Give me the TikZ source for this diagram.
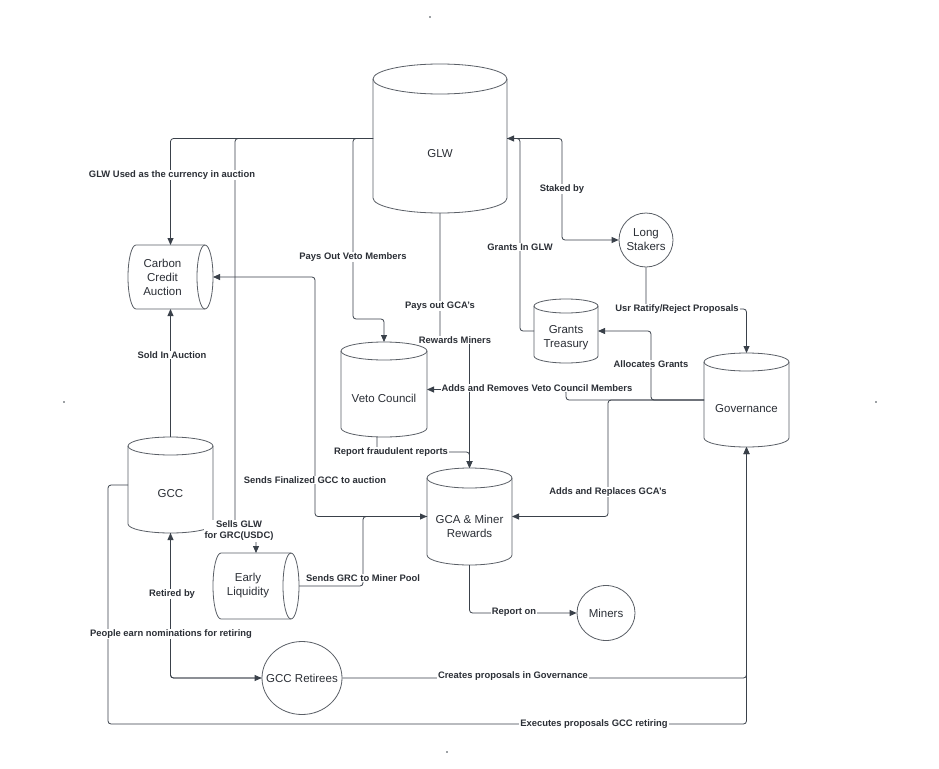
\documentclass[tikz,border=0pt]{standalone}
\usepackage{fontspec}
\setmainfont{Liberation Sans}
\usetikzlibrary{arrows.meta,shapes.geometric,calc}
\definecolor{linec}{HTML}{3A414A}
\definecolor{shapec}{HTML}{5A5F66}
\definecolor{txtc}{HTML}{2B2F36}
\tikzset{
 conn/.style={draw=linec, line width=0.8pt, rounded corners=3pt, -{Triangle[length=7pt,width=6pt]}},
 lbl/.style={fill=white, inner sep=1pt, font=\bfseries\fontsize{9.4}{11}\selectfont, text=txtc, align=center},
 shapeline/.style={draw=shapec, line width=0.8pt},
 boxtxt/.style={font=\fontsize{11.5}{14}\selectfont, text=txtc, align=center},
 anchorbox/.style={inner sep=0pt, outer sep=0pt},
}
\newcommand\VCyl[7]{%
 \node[anchorbox, minimum width=#4pt, minimum height=#5pt] (#1) at (#2,#3) {};
 \draw[shapeline] ([yshift=-#6pt]#1.north) ellipse [x radius=#4pt/2, y radius=#6pt];
 \draw[shapeline] ([yshift=-#6pt]#1.north west) -- ([yshift=#6pt]#1.south west) arc[start angle=180, end angle=360, x radius=#4pt/2, y radius=#6pt] -- ([yshift=-#6pt]#1.north east);
 \node[boxtxt] (#1-t) at ([yshift=-#6pt]#1.center) {#7};
}
\newcommand\HCyl[7]{%
 \node[anchorbox, minimum width=#4pt, minimum height=#5pt] (#1) at (#2,#3) {};
 \draw[shapeline] ([xshift=-#6pt]#1.east) ellipse [x radius=#6pt, y radius=#5pt/2];
 \draw[shapeline] ([xshift=-#6pt]#1.north east) -- ([xshift=#6pt]#1.north west) arc[start angle=90, end angle=270, x radius=#6pt, y radius=#5pt/2] -- ([xshift=-#6pt]#1.south east);
 \node[boxtxt] (#1-t) at ([xshift=-#6pt]#1.center) {#7};
}
\begin{document}
\begin{tikzpicture}[x=1pt,y=-1pt]
\fill[white] (0,0) rectangle (939,768);
\useasboundingbox (0,0) rectangle (939,768);

\VCyl{glw}{440}{138.5}{134}{149}{15}{GLW}
\VCyl{veto}{384}{389.5}{86}{95}{9}{Veto Council}
\VCyl{gt}{566}{331}{64}{64}{7}{Grants\\Treasury}
\VCyl{gov}{746.5}{400}{85}{94}{9}{Governance}
\VCyl{gca}{469.5}{516.5}{85}{97}{10}{GCA \& Miner\\Rewards}
\VCyl{gcc}{170.5}{485}{85}{96}{9}{GCC}
\HCyl{cca}{170.5}{277}{85}{64}{8}{Carbon\\Credit\\Auction}
\HCyl{el}{256}{586}{86}{66}{8}{Early\\Liquidity}

\node[ellipse, shapeline, minimum width=54pt, minimum height=54pt, inner sep=0pt] (ls) at (646,240) {};
\node[boxtxt] (ls-t) at (ls.center) {Long\\Stakers};
\node[ellipse, shapeline, minimum width=58pt, minimum height=55pt, inner sep=0pt] (miners) at (606,613) {};
\node[boxtxt] (miners-t) at (miners.center) {Miners};
\node[ellipse, shapeline, minimum width=80pt, minimum height=73pt, inner sep=0pt] (ret) at (302,678) {};
\node[boxtxt] (ret-t) at (ret.center) {GCC Retirees};

\draw[conn] (glw.west) -| (cca.north);
\draw[conn] (glw.west) -| (235,531) -| (el.north);
\draw[conn] (glw.west) -| (353,319) -| (veto.north);
\draw[conn] (glw.south) |- (469.5,340) -- (gca.north);
\draw[conn] ([xshift=-7pt]veto.south) |- (469.5,452) -- (gca.north);
\draw[conn] (gov.west) -| (566,389.5) -- (veto.east);
\draw[conn] (gov.west) -| (651,331) -- (gt.east);
\draw[conn] (gov.west) -| (608,516.5) -- (gca.east);
\draw[conn] (gt.west) -| (520,138.5) -- (glw.east);
\draw[conn] (glw.east) -| (562,240) -- (ls.west);
\draw[conn] (ls.south) |- (746.5,309) -- (gov.north);
\draw[conn] (gca.west) -| (315,277) -- (cca.east);
\draw[conn] (el.east) -| (363,516.5) -- (gca.west);
\draw[conn] (gcc.north) -- (cca.south);
\draw[conn] (ret.west) -| (gcc.south);
\draw[conn] (gcc.south) |- (ret.west);
\draw[conn] (ret.east) -| (gov.south);
\draw[conn] (gcc.west) -- (108,485) |- (746.5,724) -- (gov.south);
\draw[conn] (gca.south) |- (miners.west);

\node[lbl] (l1) at (172,175) {GLW Used as the currency in auction};
\node[lbl] (l2) at (239,531) {Sells GLW\\for GRC(USDC)};
\node[lbl] (l3) at (353,257) {Pays Out Veto Members};
\node[lbl] (l4) at (440,306) {Pays out GCA's};
\node[lbl] (l5) at (455,340) {Rewards Miners};
\node[lbl] (l6) at (391,452) {Report fraudulent reports};
\node[lbl] (l7) at (537,388) {Adds and Removes Veto Council Members};
\node[lbl] (l8) at (651,364) {Allocates Grants};
\node[lbl] (l9) at (608,492) {Adds and Replaces GCA's};
\node[lbl] (l10) at (520,247) {Grants In GLW};
\node[lbl] (l11) at (562,189) {Staked by};
\node[lbl] (l12) at (677,309) {Usr Ratify/Reject Proposals};
\node[lbl] (l13) at (315,480) {Sends Finalized GCC to auction};
\node[lbl] (l14) at (363,578) {Sends GRC to Miner Pool};
\node[lbl] (l15) at (172,355) {Sold In Auction};
\node[lbl] (l16) at (172,594) {Retired by};
\node[lbl] (l17) at (171,634) {People earn nominations for retiring};
\node[lbl] (l18) at (513,676) {Creates proposals in Governance};
\node[lbl] (l19) at (594,724) {Executes proposals GCC retiring};
\node[lbl] (l20) at (514,612) {Report on};

\fill[linec] (430,17) circle[radius=0.8pt];
\fill[linec] (64,402) circle[radius=0.8pt];
\fill[linec] (876,402) circle[radius=0.8pt];
\fill[linec] (447,752) circle[radius=0.8pt];
\end{tikzpicture}
\end{document}
